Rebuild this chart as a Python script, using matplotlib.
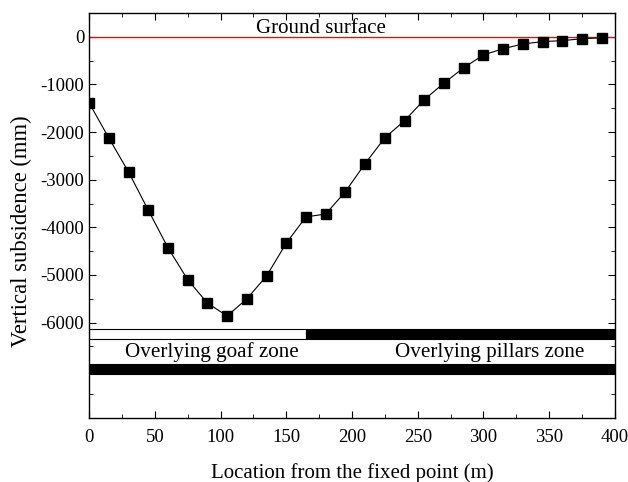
import matplotlib.pyplot as plt
from matplotlib.ticker import MultipleLocator

# measured subsidence along the survey line
location = [0, 15, 30, 45, 60, 75, 90, 105, 120, 135, 150, 165, 180, 195,
            210, 225, 240, 255, 270, 285, 300, 315, 330, 345, 360, 375, 390]
subsidence = [-1390, -2125, -2840, -3640, -4430, -5100, -5590, -5860, -5500,
              -5020, -4330, -3780, -3720, -3250, -2660, -2120, -1760, -1320,
              -970, -650, -380, -250, -150, -100, -80, -40, -20]

# zone bars (start, end) in m
goaf_zone = (0, 165)
pillar_zone = (165, 400)


def main():
    plt.rcParams['font.family'] = ['Liberation Serif', 'DejaVu Serif']
    plt.rcParams['axes.unicode_minus'] = False
    fig = plt.figure(figsize=(6.28, 4.82), dpi=100)
    ax = fig.add_axes([0.142, 0.133, 0.837, 0.840])

    ax.axhline(0, color='red', linewidth=1.0, zorder=2)
    ax.plot(location, subsidence, color='black', linewidth=0.8,
            marker='s', markersize=7.5, markerfacecolor='black',
            markeredgecolor='black', zorder=3)

    # upper bar: goaf part white, pillar part black
    ax.barh(-6235, goaf_zone[1] - goaf_zone[0], left=goaf_zone[0], height=210,
            color='white', edgecolor='black', linewidth=0.8)
    ax.barh(-6235, pillar_zone[1] - pillar_zone[0], left=pillar_zone[0],
            height=210, color='black', edgecolor='black', linewidth=0.8)
    # lower bar: full black
    ax.barh(-6975, 400, left=0, height=210, color='black', edgecolor='black',
            linewidth=0.8)

    ax.text(93, -6620, "Overlying goaf zone", fontsize=15.2, ha='center',
            va='center')
    ax.text(305, -6620, "Overlying pillars zone", fontsize=15.2, ha='center',
            va='center')
    ax.text(176, 170, "Ground surface", fontsize=15, ha='center', va='center')

    ax.set_xlim(0, 400)
    ax.set_ylim(-8000, 500)
    ax.xaxis.set_major_locator(MultipleLocator(50))
    ax.xaxis.set_minor_locator(MultipleLocator(25))
    ax.set_yticks([0, -1000, -2000, -3000, -4000, -5000, -6000])
    ax.yaxis.set_minor_locator(MultipleLocator(500))
    ax.tick_params(which='both', direction='in', top=True, right=True,
                   labelsize=13.5)
    ax.tick_params(which='major', length=5)
    ax.tick_params(which='minor', length=3)
    ax.tick_params(axis='x', which='major', pad=8)
    for s in ax.spines.values():
        s.set_linewidth(1.0)

    ax.set_xlabel("Location from the fixed point (m)", fontsize=15, labelpad=12)
    ax.set_ylabel("Vertical subsidence (mm)", fontsize=16.3)
    ax.yaxis.set_label_coords(-0.108, 0.462)

    fig.savefig("out.png", dpi=100)


if __name__ == "__main__":
    main()
